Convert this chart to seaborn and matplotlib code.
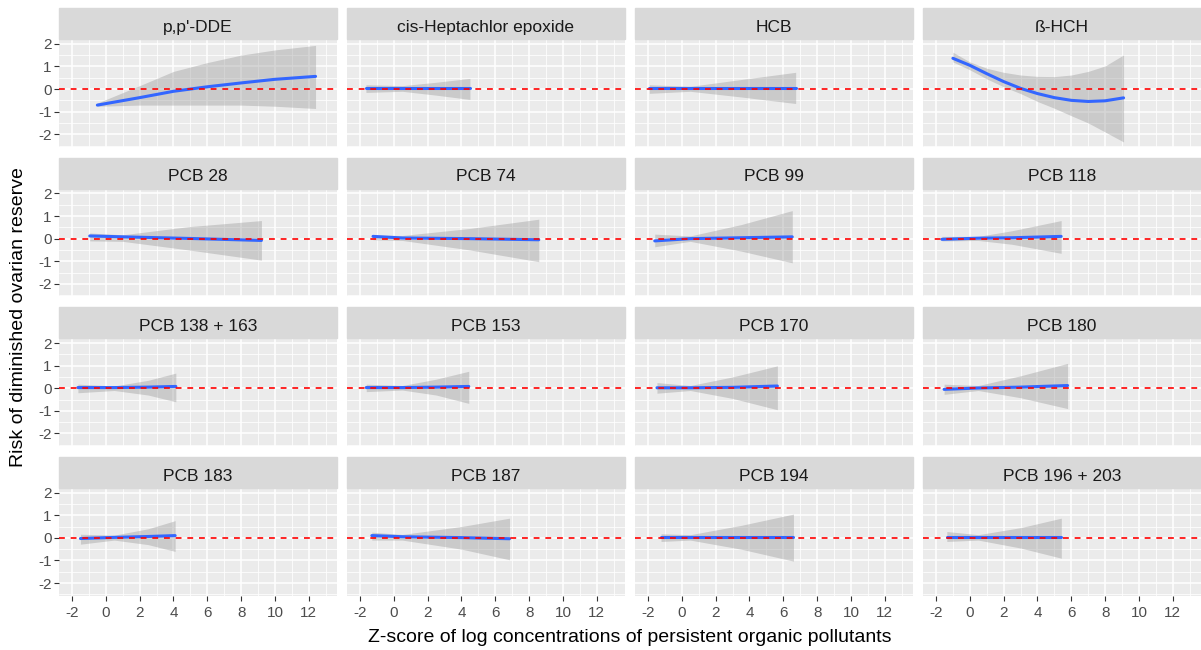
import pandas as pd
import seaborn as sns
from matplotlib import pyplot as plt
from matplotlib.patches import Rectangle
from matplotlib.ticker import MultipleLocator

# panels in facet order
pollutants = ["p,p'-DDE", "cis-Heptachlor epoxide", "HCB", "ß-HCH",
              "PCB 28", "PCB 74", "PCB 99", "PCB 118",
              "PCB 138 + 163", "PCB 153", "PCB 170", "PCB 180",
              "PCB 183", "PCB 187", "PCB 194", "PCB 196 + 203"]

# z-score positions
x_vals = [
    [-0.5, 2, 4, 6, 8, 10, 12.4],
    [-1.65, 0.5, 2.5, 4.5],
    [-1.92, 0.5, 3.5, 6.73],
    [-1.0, 0, 1, 2, 3, 4, 5, 6, 7, 8, 9.09],
    [-0.95, 1.0, 4.9, 9.2],
    [-1.23, 0.5, 4.5, 8.57],
    [-1.6, 0.5, 3.5, 6.53],
    [-1.65, 0.5, 2.5, 5.4],
    [-1.65, 0.5, 2.5, 4.14],
    [-1.63, 0.5, 2.5, 4.43],
    [-1.47, 0.5, 3.0, 5.65],
    [-1.52, 0.5, 3.0, 5.78],
    [-1.5, 0.5, 2.5, 4.1],
    [-1.3, 0.5, 4.0, 6.84],
    [-1.23, 0.5, 3.5, 6.6],
    [-1.36, 0.5, 3.0, 5.41],
]
# smoothed risk estimate
fit_vals = [
    [-0.71, -0.38, -0.1, 0.1, 0.27, 0.43, 0.56],
    [0.03, 0.03, 0.03, 0.03],
    [0.03, 0.03, 0.03, 0.03],
    [1.36, 1.05, 0.68, 0.33, 0.03, -0.2, -0.38, -0.5, -0.55, -0.52, -0.39],
    [0.12, 0.08, 0.01, -0.08],
    [0.1, 0.03, 0.0, -0.05],
    [-0.1, 0.0, 0.04, 0.08],
    [-0.03, 0.02, 0.04, 0.1],
    [0.03, 0.03, 0.05, 0.08],
    [0.03, 0.03, 0.05, 0.08],
    [0.02, 0.02, 0.04, 0.1],
    [-0.05, 0.01, 0.05, 0.12],
    [-0.03, 0.02, 0.06, 0.1],
    [0.1, 0.05, 0.01, -0.04],
    [0.03, 0.03, 0.03, 0.03],
    [0.03, 0.03, 0.03, 0.03],
]
# confidence band
lo_vals = [
    [-0.76, -0.71, -0.71, -0.71, -0.71, -0.76, -0.86],
    [-0.15, -0.1, -0.27, -0.46],
    [-0.19, -0.1, -0.35, -0.64],
    [1.2, 0.85, 0.45, 0.1, -0.2, -0.55, -0.85, -1.18, -1.5, -1.9, -2.34],
    [-0.1, -0.12, -0.5, -0.95],
    [-0.05, -0.08, -0.5, -1.02],
    [-0.36, -0.12, -0.55, -1.07],
    [-0.1, -0.08, -0.25, -0.65],
    [-0.2, -0.1, -0.3, -0.6],
    [-0.15, -0.08, -0.3, -0.67],
    [-0.22, -0.1, -0.45, -0.95],
    [-0.27, -0.1, -0.42, -0.9],
    [-0.28, -0.1, -0.3, -0.6],
    [-0.1, -0.1, -0.5, -0.97],
    [-0.16, -0.1, -0.5, -1.03],
    [-0.16, -0.1, -0.45, -0.9],
]
hi_vals = [
    [-0.62, 0.15, 0.78, 1.17, 1.5, 1.73, 1.93],
    [0.19, 0.15, 0.3, 0.47],
    [0.19, 0.12, 0.42, 0.74],
    [1.63, 1.2, 0.92, 0.74, 0.62, 0.56, 0.55, 0.62, 0.78, 1.02, 1.51],
    [0.25, 0.17, 0.53, 0.8],
    [0.16, 0.14, 0.45, 0.86],
    [0.2, 0.12, 0.62, 1.24],
    [0.1, 0.1, 0.35, 0.8],
    [0.18, 0.1, 0.35, 0.67],
    [0.18, 0.12, 0.4, 0.75],
    [0.25, 0.12, 0.5, 0.99],
    [0.18, 0.12, 0.55, 1.1],
    [0.16, 0.12, 0.4, 0.76],
    [0.25, 0.15, 0.5, 0.87],
    [0.18, 0.14, 0.55, 1.05],
    [0.28, 0.14, 0.45, 0.87],
]

rows = []
for name, xs, fs, ls, hs in zip(pollutants, x_vals, fit_vals, lo_vals, hi_vals):
    for x, f, l, h in zip(xs, fs, ls, hs):
        rows.append({"pollutant": name, "x": x, "fit": f, "lo": l, "hi": h})
df = pd.DataFrame(rows)

sns.set_theme(style="darkgrid", rc={
    "axes.facecolor": "#EBEBEB",
    "grid.color": "white",
    "axes.unicode_minus": False,
})
plt.rcParams["font.family"] = ["Liberation Sans", "DejaVu Sans"]


def draw_panel(data, **kws):
    ax = plt.gca()
    ax.fill_between(data["x"], data["lo"], data["hi"], color="#999999",
                    alpha=0.4, lw=0, zorder=2)
    sns.lineplot(data=data, x="x", y="fit", ax=ax, color="#3366FF", lw=2.2,
                 estimator=None, sort=True, zorder=3)
    ax.axhline(0, color="#FF0000", ls=(0, (3.5, 3.5)), lw=1.2, zorder=4)


g = sns.FacetGrid(df, col="pollutant", col_wrap=4, col_order=pollutants,
                  sharex=True, sharey=True, height=1.5, aspect=1.8, despine=False)
g.map_dataframe(draw_panel)
g.set_titles("")
g.set_axis_labels("", "")
fig = g.figure
fig.set_size_inches(12.01, 6.5)

W, H = 1201, 650
for i, name in enumerate(pollutants):
    ax = g.axes_dict[name]
    r, c = divmod(i, 4)
    left = 59.3 + c * 288
    top = 39.3 + r * 149.6
    ax.set_position([left / W, 1 - (top + 107.4) / H, 277.4 / W, 107.4 / H])
    ax.set_xlim(-2.75, 13.65)
    ax.set_ylim(-2.55, 2.2)
    ax.xaxis.set_major_locator(MultipleLocator(2))
    ax.xaxis.set_minor_locator(MultipleLocator(1))
    ax.yaxis.set_major_locator(MultipleLocator(1))
    ax.yaxis.set_minor_locator(MultipleLocator(0.5))
    ax.grid(which="major", color="white", lw=1.1)
    ax.grid(which="minor", color="white", lw=0.55)
    for s in ax.spines.values():
        s.set_visible(False)
    ax.tick_params(which="minor", length=0)
    ax.tick_params(axis="x", which="major", bottom=(r == 3), length=3.5,
                   width=0.8, color="#333333", labelcolor="#4D4D4D",
                   labelsize=11, pad=4, labelbottom=(r == 3))
    ax.tick_params(axis="y", which="major", left=(c == 0), length=3.5,
                   width=0.8, color="#333333", labelcolor="#4D4D4D",
                   labelsize=11, pad=2, labelleft=(c == 0))
    ax.set_xlabel("")
    ax.set_ylabel("")
    # grey strip on top of each panel
    strip_h = 31 / 107.4
    ax.add_patch(Rectangle((0, 1), 1, strip_h, transform=ax.transAxes,
                           color="#D9D9D9", clip_on=False, zorder=5))
    ax.text(0.5, 1 + 7.5 / 107.4, name, transform=ax.transAxes, ha="center",
            va="baseline", fontsize=12.5, color="#1A1A1A", zorder=6)

fig.text(630 / W, 1 - 637 / H, "Z-score of log concentrations of persistent organic pollutants",
         ha="center", va="center", fontsize=14, color="black")
fig.text(19 / W, 1 - 317 / H, "Risk of diminished ovarian reserve", rotation=90,
         ha="center", va="center", fontsize=14, color="black")

fig.savefig("out.png", dpi=100)
